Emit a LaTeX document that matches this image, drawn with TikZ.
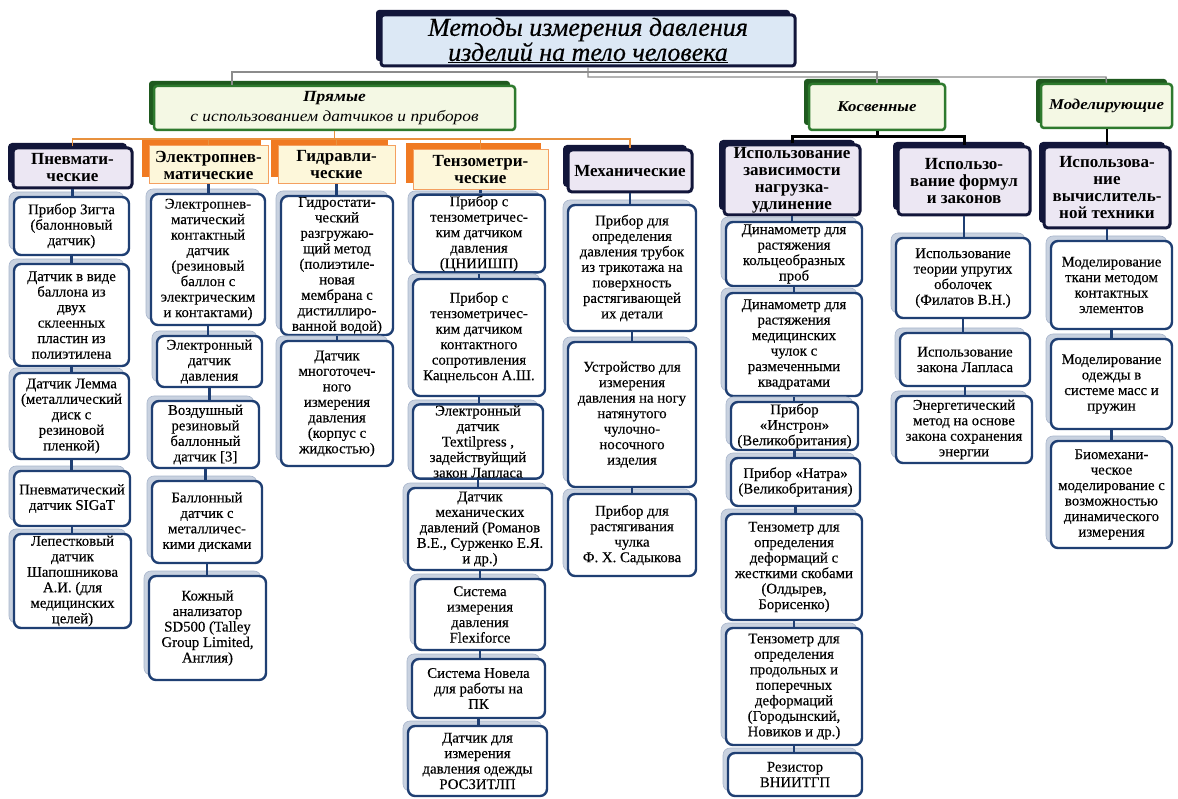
\documentclass[tikz,border=0pt]{standalone}
\usepackage{fontspec}
\setmainfont{Liberation Serif}
\newfontfamily\itemfam[FakeBold=0.3]{Liberation Serif}
\newfontfamily\subfam[FakeStretch=1.12]{Liberation Serif}
\newfontfamily\titlefam[FakeBold=0.5]{Liberation Serif}
\usetikzlibrary{calc}
\definecolor{itemc}{HTML}{1F3F73}
\definecolor{shadc}{HTML}{C9D2E0}
\definecolor{shadd}{HTML}{A9B6CC}
\definecolor{navyc}{HTML}{12163A}
\definecolor{lavc}{HTML}{ECE7F3}
\definecolor{orangec}{HTML}{F07A22}
\definecolor{orangeb}{HTML}{F4A060}
\definecolor{yelc}{HTML}{FDF7DA}
\definecolor{greenc}{HTML}{2E7A2E}
\definecolor{greensh}{HTML}{1F5A1F}
\definecolor{greenf}{HTML}{F4F8E4}
\definecolor{titlef}{HTML}{DCE8F5}
\definecolor{grayc}{HTML}{8C8C8C}
\definecolor{orline}{HTML}{E8913E}
\newcommand\itemfont{\itemfam\fontsize{14.8}{15.5}\selectfont}
\newcommand\hdrfont{\fontsize{17}{17}\selectfont\bfseries}
\newcommand\bx[9]{%
  \pgfmathsetlengthmacro\bw{(#6-#4)*1pt}%
  \pgfmathsetlengthmacro\bh{(#7-#5)*1pt}%
  \fill[#1] (#4-#9,#5-#9) rectangle (#6-#9,#7-#9);
  \node[#2, minimum width=\bw, minimum height=\bh] (#3) at ({(#4+#6)/2},{(#5+#7)/2}) {#8};
}
\newcommand\ib[6]{\bx{ishadow}{itembox}{#1}{#2}{#3}{#4}{#5}{#6}{5}}
\newcommand\nh[6]{\bx{navysh}{navyhdr}{#1}{#2}{#3}{#4}{#5}{#6}{5}}
\newcommand\oh[6]{\bx{orsh}{orhdr}{#1}{#2}{#3}{#4}{#5}{#6}{7}}
\newcommand\gh[6]{\bx{grsh}{greenhdr}{#1}{#2}{#3}{#4}{#5}{#6}{5}}
\begin{document}
\begin{tikzpicture}[x=1pt,y=-1pt,
  itembox/.style={draw=itemc, line width=2.4pt, rounded corners=7pt, fill=white, align=center, inner sep=1pt, font=\itemfont},
  ishadow/.style={fill=shadc, draw=shadd, line width=0.6pt, rounded corners=7pt},
  navyhdr/.style={draw=navyc, line width=3pt, rounded corners=4pt, fill=lavc, align=center, inner sep=1pt, font=\hdrfont},
  navysh/.style={fill=navyc, rounded corners=4pt},
  orhdr/.style={draw=orangeb, line width=1pt, fill=yelc, align=center, inner sep=1pt, font=\hdrfont},
  orsh/.style={fill=orangec},
  greenhdr/.style={draw=greenc, line width=2.5pt, rounded corners=3pt, fill=greenf, align=center, inner sep=1pt},
  grsh/.style={fill=greensh, rounded corners=3pt},
  titlebox/.style={draw=navyc, line width=3pt, rounded corners=3pt, fill=titlef, align=center, inner sep=1pt},
  tsh/.style={fill=navyc, rounded corners=3pt},
  stackline/.style={draw=itemc, line width=2.5pt},
  grayline/.style={draw=grayc, line width=1.4pt},
  oline/.style={draw=orline, line width=1.6pt},
  blkline/.style={draw=black, line width=3pt}
]
\useasboundingbox (0,0) rectangle (1178,799);
\fill[white] (0,0) rectangle (1178,799);

% ---------- title and top level ----------
\bx{tsh}{titlebox}{title}{381}{15}{795}{66}{\titlefam\itshape\fontsize{26}{24}\selectfont Методы измерения давления\\\titlefam\itshape\fontsize{26}{24}\selectfont\underline{изделий на тело человека}}{5}
\gh{pr}{154}{86}{515}{130}{{\subfam\fontsize{15.5}{16}\selectfont\bfseries\itshape Прямые}\\[4pt]{\subfam\fontsize{15.5}{15}\selectfont\itshape с использованием датчиков и приборов}}
\gh{kos}{809}{84}{945}{130}{\subfam\fontsize{15}{16}\selectfont\bfseries\itshape Косвенные}
\gh{mod}{1041}{84}{1172}{128}{\subfam\fontsize{15}{16}\selectfont\bfseries\itshape Моделирующие}

% ---------- category headers ----------
\nh{h1}{13}{148}{132}{188}{Пневмати-\\ческие}
\oh{h2}{149}{146}{268}{184}{Электропнев-\\матические}
\oh{h3}{278}{146}{395}{184}{Гидравли-\\ческие}
\oh{h4}{413}{150}{548}{190}{Тензометри-\\ческие}
\nh{h5}{568}{150}{692}{192}{Механические}
\nh{h6}{724}{145}{860}{215}{Использование\\зависимости\\нагрузка-\\удлинение}
\nh{h7}{898}{147}{1030}{215}{Использо-\\вание формул\\и законов}
\nh{h8}{1044}{147}{1170}{228}{Использова-\\ние\\вычислитель-\\ной техники}

% ---------- column 1 ----------
\ib{c1a}{14}{197}{129}{255}{Прибор Зигта\\(балонновый\\датчик)}
\ib{c1b}{14}{264}{129}{366}{Датчик в виде\\баллона из\\двух\\склеенных\\пластин из\\полиэтилена}
\ib{c1c}{14}{373}{129}{459}{Датчик Лемма\\(металлический\\диск с\\резиновой\\пленкой)}
\ib{c1d}{14}{471}{130}{526}{Пневматический\\датчик SIGaT}
\ib{c1e}{14}{534}{131}{628}{Лепестковый\\датчик\\Шапошникова\\А.И. (для\\медицинских\\целей)}

% ---------- column 2 ----------
\ib{c2a}{151}{194}{265}{325}{Электропнев-\\матический\\контактный\\датчик\\(резиновый\\баллон с\\электрическим\\и контактами)}
\ib{c2b}{157}{336}{262}{387}{Электронный\\датчик\\давления}
\ib{c2c}{152}{401}{259}{468}{Воздушный\\резиновый\\баллонный\\датчик [3]}
\ib{c2d}{152}{481}{262}{563}{Баллонный\\датчик с\\металличес-\\кими дисками}
\ib{c2e}{149}{576}{266}{680}{Кожный\\анализатор\\SD500 (Talley\\Group Limited,\\Англия)}

% ---------- column 3 ----------
\ib{c3a}{281}{196}{393}{335}{Гидростати-\\ческий\\разгружаю-\\щий метод\\(полиэтиле-\\новая\\мембрана с\\дистиллиро-\\ванной водой)}
\ib{c3b}{281}{341}{393}{466}{Датчик\\многоточеч-\\ного\\измерения\\давления\\(корпус с\\жидкостью)}

% ---------- column 4 ----------
\ib{c4a}{413}{196}{545}{271}{Прибор с\\тензометричес-\\ким датчиком\\давления\\(ЦНИИШП)}
\ib{c4b}{413}{279}{545}{396}{Прибор с\\тензометричес-\\ким датчиком\\контактного\\сопротивления\\Кацнельсон А.Ш.}
\ib{c4c}{413}{405}{543}{478}{Электронный\\датчик\\Textilpress ,\\задействуйщий\\закон Лапласа}
\ib{c4d}{408}{488}{552}{570}{Датчик\\механических\\давлений (Романов\\В.Е., Сурженко Е.Я.\\и др.)}
\ib{c4e}{415}{579}{545}{650}{Система\\измерения\\давления\\Flexiforce}
\ib{c4f}{412}{659}{545}{718}{Система Новела\\для работы на\\ПК}
\ib{c4g}{408}{726}{547}{796}{Датчик для\\измерения\\давления одежды\\РОСЗИТЛП}

% ---------- column 5 ----------
\ib{c5a}{568}{205}{696}{331}{Прибор для\\определения\\давления трубок\\из трикотажа на\\поверхность\\растягивающей\\их детали}
\ib{c5b}{568}{342}{696}{487}{Устройство для\\измерения\\давления на ногу\\натянутого\\чулочно-\\носочного\\изделия}
\ib{c5c}{568}{494}{696}{576}{Прибор для\\растягивания\\чулка\\Ф. Х. Садыкова}

% ---------- column 6 ----------
\ib{c6a}{726}{222}{862}{286}{Динамометр для\\растяжения\\кольцеобразных\\проб}
\ib{c6b}{726}{293}{862}{396}{Динамометр для\\растяжения\\медицинских\\чулок с\\размеченными\\квадратами}
\ib{c6c}{731}{402}{858}{450}{Прибор\\«Инстрон»\\(Великобритания)}
\ib{c6d}{731}{458}{860}{506}{Прибор «Натра»\\(Великобритания)}
\ib{c6e}{726}{514}{862}{620}{Тензометр для\\определения\\деформаций с\\жесткими скобами\\(Олдырев,\\Борисенко)}
\ib{c6f}{726}{628}{862}{745}{Тензометр для\\определения\\продольных и\\поперечных\\деформаций\\(Городынский,\\Новиков и др.)}
\ib{c6g}{728}{753}{862}{796}{Резистор\\ВНИИТГП}

% ---------- column 7 ----------
\ib{c7a}{896}{238}{1030}{318}{Использование\\теории упругих\\оболочек\\(Филатов В.Н.)}
\ib{c7b}{900}{333}{1030}{386}{Использование\\закона Лапласа}
\ib{c7c}{896}{396}{1032}{463}{Энергетический\\метод на основе\\закона сохранения\\энергии}

% ---------- column 8 ----------
\ib{c8a}{1051}{241}{1172}{329}{Моделирование\\ткани методом\\контактных\\элементов}
\ib{c8b}{1051}{339}{1172}{429}{Моделирование\\одежды в\\системе масс и\\пружин}
\ib{c8c}{1051}{441}{1172}{548}{Биомехани-\\ческое\\моделирование с\\возможностью\\динамического\\измерения}

% ---------- connectors: top level ----------
\coordinate (tl) at (232,72);
\coordinate (tr) at (877,72);
\coordinate (tm) at (1106,77);
\draw[grayline] (tl |- pr.north) -- (tl) -- (tr) -- (tr |- kos.north);
\draw[grayline] (title.south) -- (title.south |- tm) -- (tm) -- (mod.north);

% ---------- connectors: direct methods ----------
\coordinate (ol) at (72,139);
\draw[oline] (pr.south) -- (pr.south |- ol);
\draw[oline] (h1.north) -- (h1.north |- ol) -| (h5.north);
\draw[oline] (h2.north) -- (h2.north |- ol);
\draw[oline] (h3.north) -- (h3.north |- ol);
\draw[oline] (h4.north) -- (h4.north |- ol);

% ---------- connectors: indirect and modelling ----------
\coordinate (kj) at (877,137);
\draw[blkline] (kos.south) -- (kos.south |- kj);
\draw[blkline] (h6.north) -- (h6.north |- kj) -| (h7.north);
\draw[blkline, line width=2pt] (mod.south) -- (mod.south |- h8.north);

% ---------- connectors: stacks ----------
\foreach \a/\b in {h1/c1a,c1a/c1b,c1b/c1c,c1c/c1d,c1d/c1e,
                   h2/c2a,c2a/c2b,c2b/c2c,c2c/c2d,c2d/c2e,
                   h3/c3a,c3a/c3b,
                   h4/c4a,c4a/c4b,c4b/c4c,c4c/c4d,c4d/c4e,c4e/c4f,c4f/c4g,
                   h5/c5a,c5a/c5b,c5b/c5c,
                   h6/c6a,c6a/c6b,c6b/c6c,c6c/c6d,c6d/c6e,c6e/c6f,c6f/c6g,
                   h7/c7a,c7a/c7b,c7b/c7c,
                   h8/c8a,c8a/c8b,c8b/c8c}
  \draw[stackline] (\a.south) -- (\a.south |- \b.north);
\end{tikzpicture}
\end{document}
